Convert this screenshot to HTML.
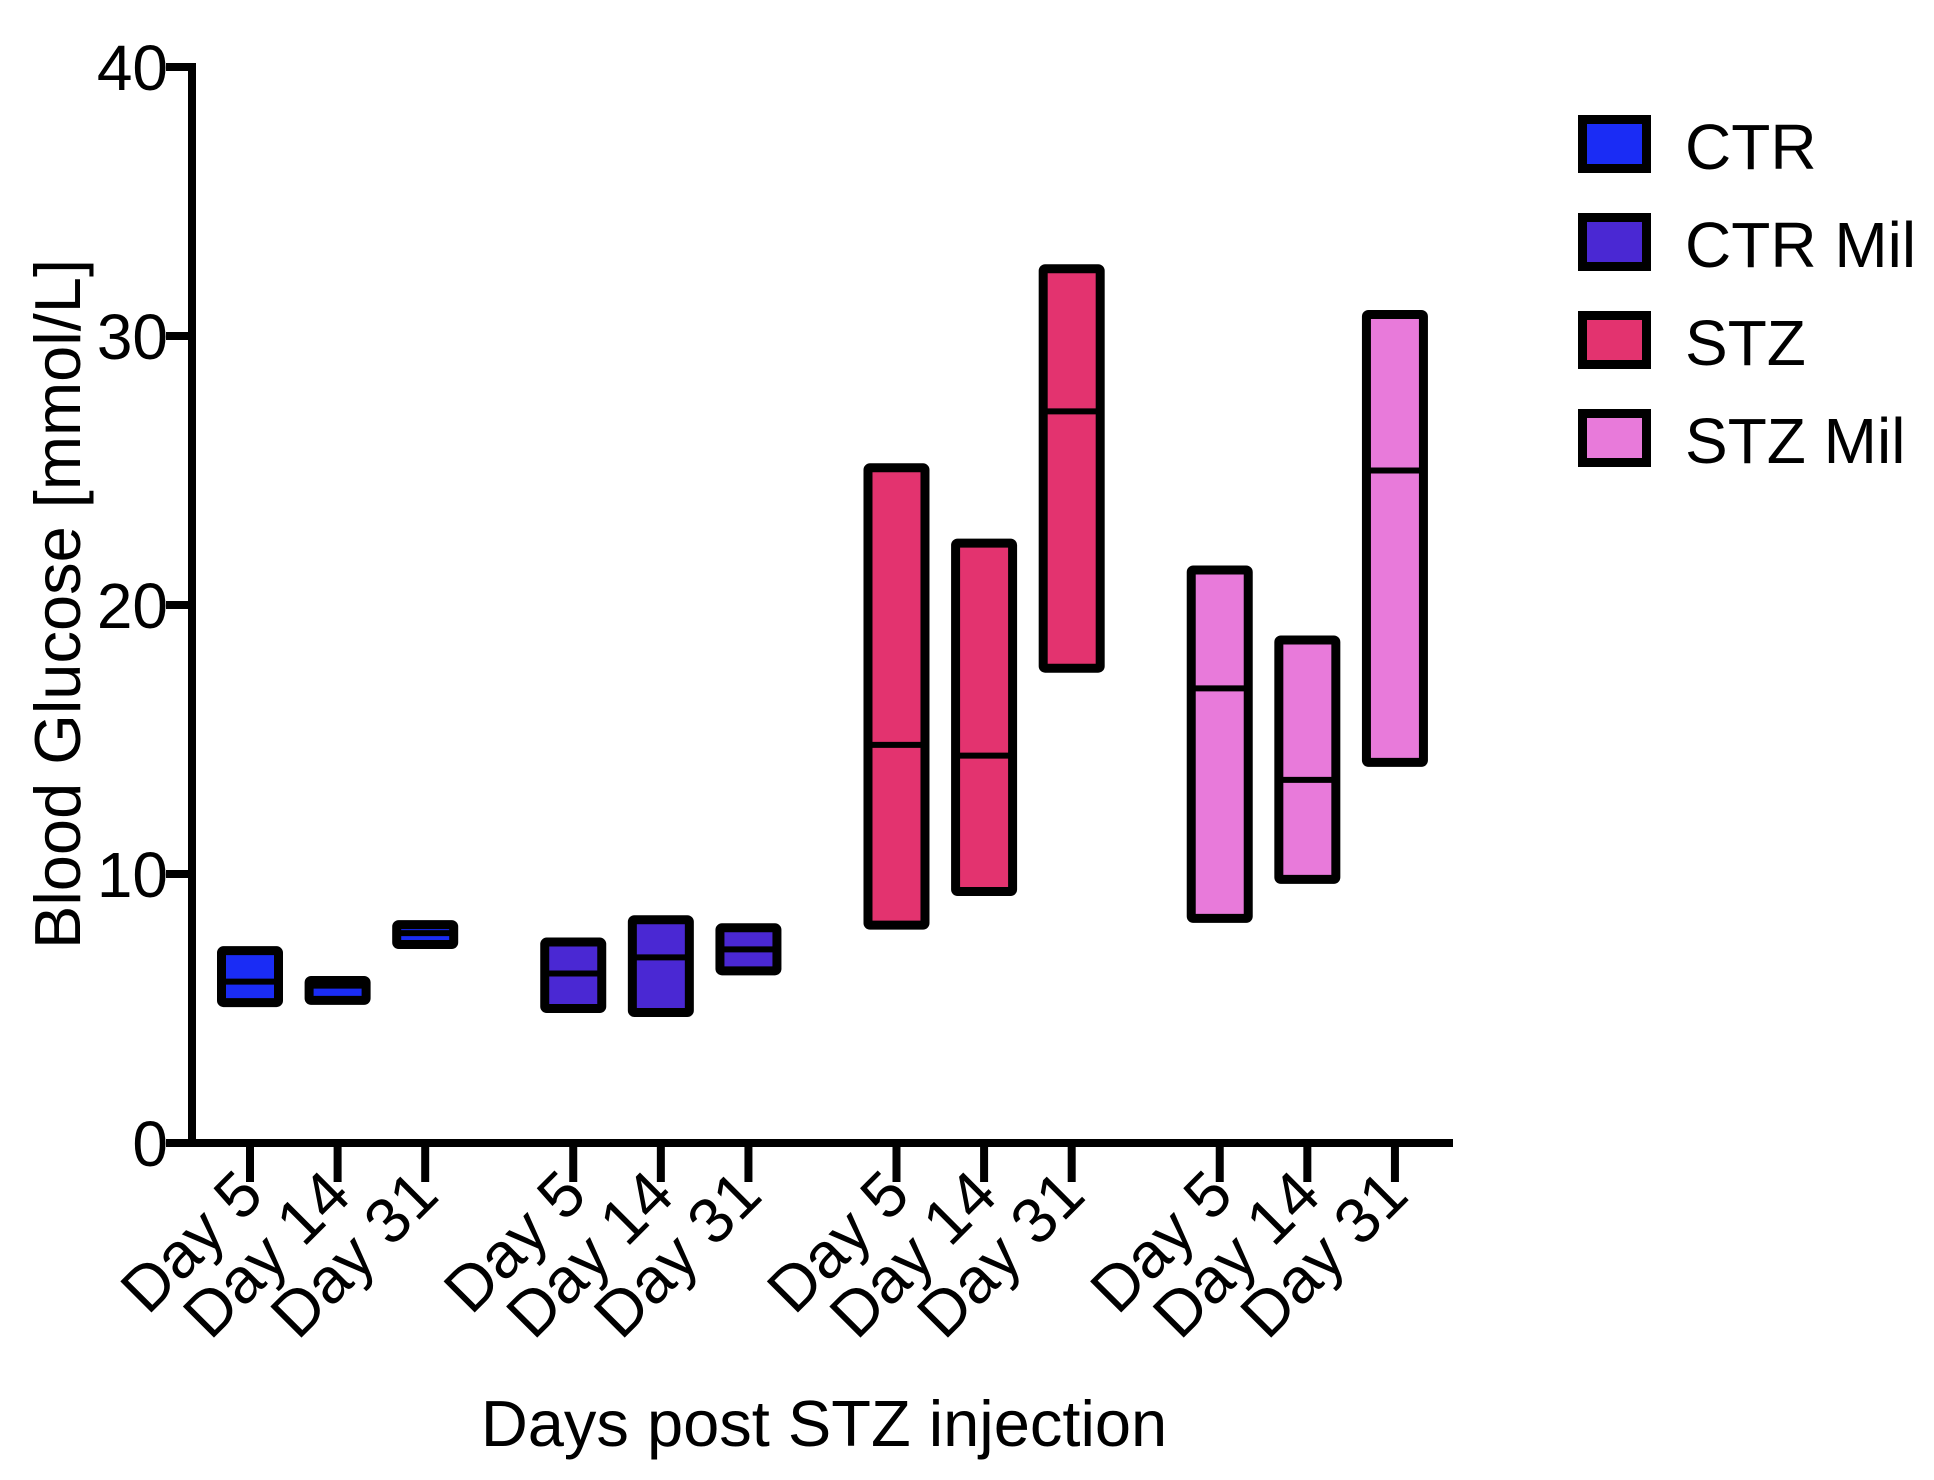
<!DOCTYPE html>
<html><head><meta charset="utf-8"><style>
html,body{margin:0;padding:0;background:#fff;}
svg{display:block;font-family:"Liberation Sans",Arial,sans-serif;}
</style></head><body>
<svg id="chart" width="1934" height="1480" viewBox="0 0 1934 1480"></svg>
<script>
const groups = ["CTR","CTR Mil","STZ","STZ Mil"];
const colors = ["#1a2cf5","#4a28d3","#e3336f","#e87ada"];
const days = ["Day 5","Day 14","Day 31"];
const tops = [[7.15,6.04,8.12],[7.47,8.3,8.0],[25.1,22.3,32.5],[21.3,18.7,30.8]];
const bottoms = [[5.22,5.3,7.38],[5.0,4.85,6.4],[8.1,9.35,17.65],[8.35,9.8,14.15]];
const medians = [[6.0,5.85,7.8],[6.3,6.9,7.2],[14.8,14.4,27.2],[16.9,13.5,25.0]];
const yTicks = [0,10,20,30,40];

const NS="http://www.w3.org/2000/svg";
const svg=document.getElementById('chart');
function mk(t,a,p){const e=document.createElementNS(NS,t);for(const k in a)e.setAttribute(k,a[k]);(p||svg).appendChild(e);return e;}
const y0=1143, pxPer=26.9;
function yS(v){return y0-v*pxPer;}
function xS(g,d){return 250+87.6*(g*3+d+g*0.69);}

const ax=mk('line',{x1:192,y1:yS(40)-4,x2:192,y2:y0+4,stroke:'#000','stroke-width':8});


const bx=mk('line',{x1:188,y1:y0,x2:1453,y2:y0,stroke:'#000','stroke-width':8});



yTicks.forEach(v=>{
  const t=mk('line',{x1:166,y1:yS(v),x2:192,y2:yS(v),stroke:'#000','stroke-width':8});
  
  
  const l=mk('text',{x:168,y:yS(v)+23,'text-anchor':'end','font-size':64});
  
  
  l.textContent=v;
});

groups.forEach((g,gi)=>{
  days.forEach((d,di)=>{
    const x=xS(gi,di);
    const tk=mk('line',{x1:x,y1:y0,x2:x,y2:1182,stroke:'#000','stroke-width':8});
    
    
    const lb=mk('text',{x:0,y:0,'text-anchor':'end','font-size':64,transform:`translate(${x+16},${1198}) rotate(-45)`});
    
    
    lb.textContent=d;
    const top=yS(tops[gi][di]), bot=yS(bottoms[gi][di]);
    const r=mk('rect',{x:x-28.5,y:top,width:57,height:bot-top,fill:colors[gi],stroke:'#000','stroke-width':9,rx:2});
    
    
    const m=mk('line',{x1:x-28.5,y1:yS(medians[gi][di]),x2:x+28.5,y2:yS(medians[gi][di]),stroke:'#000','stroke-width':6});
    
    
  });
  const ly=115+gi*98;
  const lr=mk('rect',{x:1582.5,y:ly+4.5,width:64,height:49,fill:colors[gi],stroke:'#000','stroke-width':9});
  
  
  const lt=mk('text',{x:1685,y:ly+54,'font-size':64});
  
  
  lt.textContent=g;
});

const yt=mk('text',{x:0,y:0,'text-anchor':'middle','font-size':65,transform:'translate(80,604) rotate(-90)'});


yt.textContent='Blood Glucose [mmol/L]';
const xt=mk('text',{x:824,y:1446,'text-anchor':'middle','font-size':65});


xt.textContent='Days post STZ injection';
</script>
</body></html>
